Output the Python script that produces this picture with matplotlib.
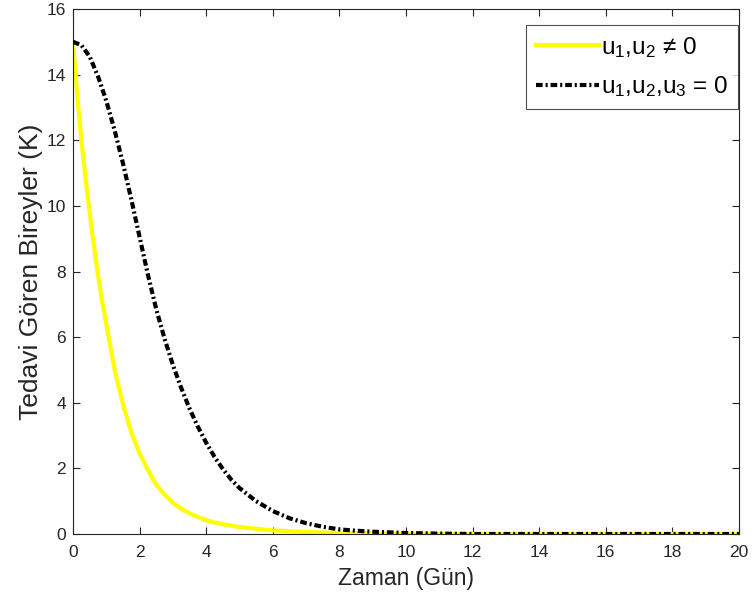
import matplotlib.pyplot as plt

plt.rcParams['font.family'] = ['Liberation Sans', 'DejaVu Sans']
plt.rcParams['mathtext.fontset'] = 'custom'
plt.rcParams['mathtext.rm'] = 'Liberation Sans'
plt.rcParams['mathtext.it'] = 'Liberation Sans'

# values
t_yellow = [0, 0.125, 0.25, 0.375, 0.5, 0.625, 0.75, 0.875, 1.0, 1.25, 1.5, 1.75,
            2.0, 2.25, 2.5, 2.75, 3.0, 3.25, 3.5, 3.75, 4.0, 4.25, 4.5, 5.0,
            6.0, 7.0, 8.0, 10, 12, 14, 16, 18, 20]
k_yellow = [15.0, 13.4, 12.0, 10.85, 9.8, 8.8, 7.9, 7.1, 6.4, 5.0, 3.95, 3.1,
            2.45, 1.95, 1.5, 1.2, 0.95, 0.77, 0.63, 0.52, 0.42, 0.35, 0.3, 0.21,
            0.11, 0.06, 0.03, 0.01, 0, 0, 0, 0, 0]

t_black = [0, 0.25, 0.5, 0.75, 1.0, 1.25, 1.5, 1.75, 2.0, 2.25, 2.5, 2.75,
           3.0, 3.25, 3.5, 3.75, 4.0, 4.25, 4.5, 4.75, 5.0, 5.5, 6.0, 6.5,
           7.0, 7.5, 8.0, 8.5, 9.0, 10, 11, 12, 14, 16, 18, 20]
k_black = [15.0, 14.9, 14.55, 13.95, 13.2, 12.3, 11.3, 10.2, 9.05, 7.9, 6.85, 5.95,
           5.15, 4.45, 3.82, 3.27, 2.78, 2.35, 1.98, 1.66, 1.4, 1.0, 0.7, 0.48,
           0.33, 0.22, 0.14, 0.1, 0.07, 0.03, 0.01, 0, 0, 0, 0, 0]

labels = ['u$_1$,u$_2$ \u2260 0', 'u$_1$,u$_2$,u$_3$ = 0']
xticks = list(range(0, 21, 2))
yticks = list(range(0, 17, 2))

fig = plt.figure(figsize=(7.54, 6.03), dpi=100)
ax = fig.add_axes([73 / 754, 1 - 534 / 603, 666 / 754, 525 / 603])

ax.plot(t_yellow, k_yellow, color='#FFFF00', lw=3.0, label=labels[0], zorder=2)
ln, = ax.plot(t_black, k_black, color='black', lw=3.0, label=labels[1], zorder=3)
ln.set_dashes([1.6, 0.7, 0.5, 0.7])

ax.set_xlim(0, 20)
ax.set_ylim(0, 16)
ax.set_xticks(xticks)
ax.set_yticks(yticks)
ax.tick_params(direction='in', length=5, width=0.8, colors='#262626',
               labelsize=12.5, top=True, right=True)
ax.tick_params(axis='x', pad=8)
ax.tick_params(axis='y', pad=5)
for s in ax.spines.values():
    s.set_color('#262626')
    s.set_linewidth(0.8)

ax.set_xlabel('Zaman (G\u00fcn)', fontsize=16.5, color='#262626', labelpad=5)
ax.set_ylabel('Tedavi G\u00f6ren Bireyler (K)', fontsize=19, color='#262626', labelpad=3)

leg = ax.legend(loc='upper right', bbox_to_anchor=(0.9985, 0.969), fontsize=17.5,
                frameon=True, fancybox=False, edgecolor='#262626',
                handlelength=2.6, handletextpad=0.1, borderpad=0.4,
                labelspacing=0.6, borderaxespad=0)
leg.get_frame().set_linewidth(0.8)

fig.savefig('out.png', dpi=100)
